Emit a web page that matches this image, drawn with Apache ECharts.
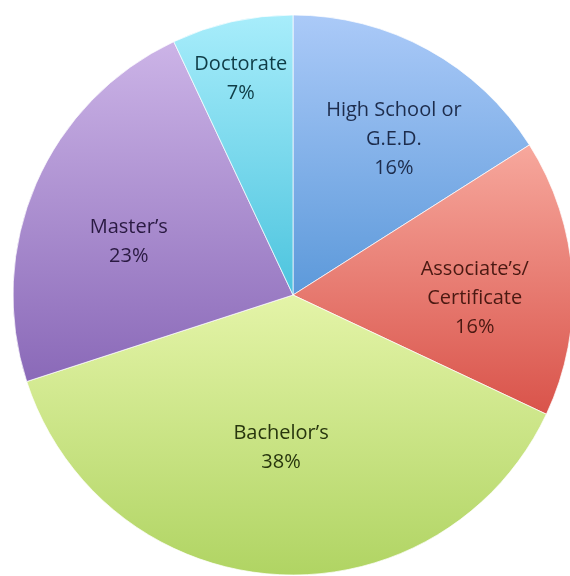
<!DOCTYPE html>
<html>
<head>
<meta charset="utf-8">
<title>Highest degree earned</title>
<script src="https://cdn.jsdelivr.net/npm/echarts@6/dist/echarts.min.js"></script>
<style>
  html, body { margin: 0; padding: 0; background: #ffffff; }
  #chart { width: 570px; height: 576px; }
</style>
</head>
<body>
<div id="chart"></div>
<script>
// Degree categories, clockwise from 12 o'clock
const categories = ['High School or\nG.E.D.', 'Associate\u2019s/\nCertificate', 'Bachelor\u2019s', 'Master\u2019s', 'Doctorate'];
// Share of respondents, percent
const shares = [16, 16, 38, 23, 7];

// Per-slice gradient stops (top -> bottom) and label ink
const sliceTop    = ['#abcaf8', '#f7a89d', '#e4f4a8', '#ccb4e7', '#a8edfb'];
const sliceBottom = ['#5c99da', '#d9534a', '#b0d463', '#8a69b8', '#4cc4de'];
const labelInk    = ['#1d2c4c', '#4a1912', '#28360e', '#2a1a42', '#0f3c46'];
// Nudges that move each label off the default mid-radius spot
const labelNudge  = [[32, -30], [39, 12], [-3, 10], [-33, 4], [-21, -77]];

const data = categories.map((name, i) => ({
  name: name,
  value: shares[i],
  itemStyle: {
    color: new echarts.graphic.LinearGradient(0, 0, 0, 1, [
      { offset: 0, color: sliceTop[i] },
      { offset: 1, color: sliceBottom[i] }
    ])
  },
  label: { color: labelInk[i], offset: labelNudge[i] }
}));

const chart = echarts.init(document.getElementById('chart'), null, { renderer: 'canvas' });
chart.setOption({
  backgroundColor: '#ffffff',
  animation: false,
  series: [{
    type: 'pie',
    center: [293, 295],
    radius: [0, 280],
    startAngle: 90,
    clockwise: true,
    avoidLabelOverlap: false,
    data: data,
    itemStyle: {
      borderColor: 'rgba(255,255,255,0.7)',
      borderWidth: 1
    },
    label: {
      show: true,
      position: 'inside',
      formatter: p => p.name + '\n' + p.value + '%',
      fontFamily: 'Open Sans',
      fontSize: 20,
      lineHeight: 29,
      align: 'center'
    },
    labelLine: { show: false },
    emphasis: { disabled: true }
  }]
});
</script>
</body>
</html>
